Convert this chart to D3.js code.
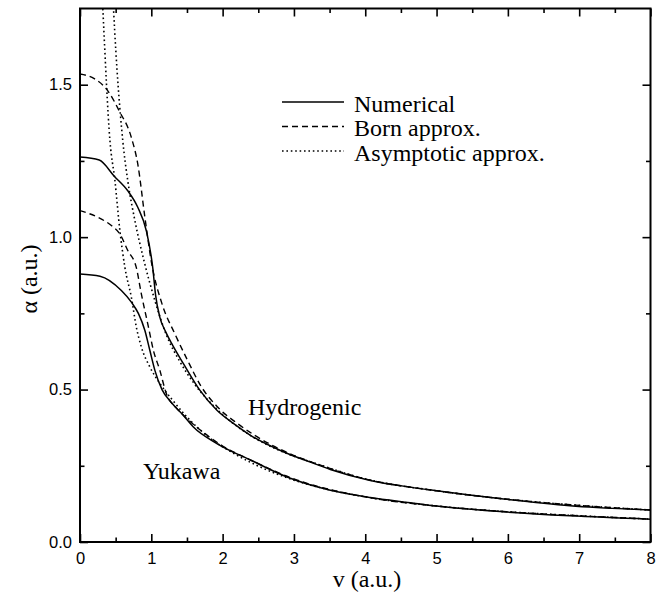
<!DOCTYPE html>
<html>
<head>
<meta charset="utf-8">
<script src="https://cdn.jsdelivr.net/npm/d3@7"></script>
<style>
  html, body { margin: 0; padding: 0; background: #fff; }
  svg { display: block; }
</style>
</head>
<body>
<svg id="chart" width="672" height="598"></svg>
<script>
// ---------------- data ----------------
const xTicks = [0, 1, 2, 3, 4, 5, 6, 7, 8];
const xMinorTicks = [0.5, 1.5, 2.5, 3.5, 4.5, 5.5, 6.5, 7.5];
const yTicks = [0.0, 0.5, 1.0, 1.5];
const yMinorTicks = [0.25, 0.75, 1.25];

const legendLabels = ["Numerical", "Born approx.", "Asymptotic approx."];
const curveLabels = ["Hydrogenic", "Yukawa"];

// Hydrogenic – numerical
const hydroNumV = [0, 0.27, 0.48, 0.67, 0.81, 0.93, 1.02, 1.06, 1.12, 1.20, 1.30, 1.45, 1.68, 1.92, 2.15, 2.39, 2.85, 3.23, 3.51, 4.07, 4.63, 5.0, 5.94, 6.87, 8.0];
const hydroNumA = [1.263, 1.253, 1.200, 1.152, 1.098, 1.021, 0.900, 0.810, 0.737, 0.690, 0.645, 0.585, 0.498, 0.432, 0.389, 0.350, 0.296, 0.262, 0.238, 0.202, 0.180, 0.168, 0.141, 0.119, 0.105];
// Hydrogenic – Born
const hydroBornV = [0, 0.20, 0.39, 0.55, 0.72, 0.81, 0.91, 1.00, 1.15, 1.33, 1.50, 1.70, 1.95, 2.20, 2.45, 2.90, 3.30, 4.0, 5.0, 6.0, 7.0, 8.0];
const hydroBornA = [1.535, 1.520, 1.480, 1.414, 1.327, 1.240, 1.065, 0.920, 0.781, 0.683, 0.600, 0.510, 0.438, 0.390, 0.350, 0.294, 0.258, 0.207, 0.168, 0.140, 0.120, 0.105];
// Hydrogenic – asymptotic
const hydroAsyV = [0.44, 0.47, 0.60, 0.67, 0.77, 0.90, 1.05, 1.21, 1.40, 1.60, 1.90, 2.40, 2.85, 3.30, 4.0, 5.0, 6.0, 7.0, 8.0];
const hydroAsyA = [1.900, 1.750, 1.316, 1.185, 1.054, 0.920, 0.792, 0.680, 0.592, 0.520, 0.440, 0.348, 0.295, 0.258, 0.207, 0.168, 0.140, 0.120, 0.105];

// Yukawa – numerical
const yukNumV = [0, 0.28, 0.58, 0.72, 0.82, 0.91, 0.98, 1.05, 1.15, 1.29, 1.45, 1.59, 1.92, 2.39, 2.94, 3.51, 4.07, 4.63, 5.0, 5.94, 6.87, 8.0];
const yukNumA = [0.879, 0.872, 0.825, 0.787, 0.749, 0.694, 0.628, 0.563, 0.500, 0.455, 0.415, 0.377, 0.323, 0.269, 0.210, 0.170, 0.146, 0.129, 0.118, 0.099, 0.086, 0.075];
// Yukawa – Born
const yukBornV = [0, 0.25, 0.44, 0.56, 0.67, 0.79, 0.86, 0.96, 1.03, 1.12, 1.21, 1.35, 1.50, 1.70, 2.00, 2.40, 3.0, 4.0, 5.0, 6.0, 7.0, 8.0];
const yukBornA = [1.087, 1.065, 1.038, 1.010, 0.956, 0.900, 0.814, 0.705, 0.628, 0.563, 0.487, 0.440, 0.405, 0.365, 0.315, 0.268, 0.207, 0.148, 0.118, 0.099, 0.086, 0.075];
// Yukawa – asymptotic
const yukAsyV = [0.30, 0.32, 0.42, 0.49, 0.56, 0.63, 0.72, 0.79, 0.86, 0.98, 1.12, 1.31, 1.50, 1.80, 2.20, 2.90, 3.50, 4.0, 5.0, 6.0, 7.0, 8.0];
const yukAsyA = [1.850, 1.750, 1.316, 1.185, 1.020, 0.900, 0.803, 0.705, 0.640, 0.574, 0.520, 0.462, 0.410, 0.345, 0.285, 0.211, 0.171, 0.148, 0.118, 0.099, 0.086, 0.075];

// ---------------- layout ----------------
const svg = d3.select("#chart");
const x = d3.scaleLinear().domain([0, 8]).range([80, 650.5]);
const y = d3.scaleLinear().domain([0, 1.75]).range([542, 8.5]);

const styles = {
  solid:  { width: 1.5, dash: null },
  dashed: { width: 1.4, dash: "6,4" },
  dotted: { width: 1.6, dash: "1.6,2.8" }
};

svg.append("defs").append("clipPath").attr("id", "plotclip")
  .append("rect")
  .attr("x", x(0)).attr("y", y(1.75))
  .attr("width", x(8) - x(0)).attr("height", y(0) - y(1.75));

const zip = (vs, as) => vs.map((v, i) => [v, as[i]]);
const line = d3.line().x(d => x(d[0])).y(d => y(d[1])).curve(d3.curveMonotoneX);

const series = [
  { data: zip(hydroNumV, hydroNumA), style: "solid" },
  { data: zip(hydroBornV, hydroBornA), style: "dashed" },
  { data: zip(hydroAsyV, hydroAsyA), style: "dotted" },
  { data: zip(yukNumV, yukNumA), style: "solid" },
  { data: zip(yukBornV, yukBornA), style: "dashed" },
  { data: zip(yukAsyV, yukAsyA), style: "dotted" }
];

const plot = svg.append("g").attr("clip-path", "url(#plotclip)");
plot.selectAll("path.series").data(series).join("path")
  .attr("class", "series")
  .attr("d", d => line(d.data))
  .attr("fill", "none")
  .attr("stroke", "#000")
  .attr("stroke-width", d => styles[d.style].width)
  .attr("stroke-dasharray", d => styles[d.style].dash);

// ---------------- axes ----------------
const tickFont = "Liberation Sans, Arial, Helvetica, sans-serif";
function styleAxis(g) {
  g.select(".domain").remove();
  g.selectAll(".tick line").attr("stroke", "#000").attr("stroke-width", 1.6);
  g.selectAll(".tick text").attr("fill", "#000").style("font-family", tickFont).style("font-size", "16.5px");
}

svg.append("g").attr("transform", `translate(0,${y(0)})`)
  .call(d3.axisBottom(x).tickValues(xTicks).tickSize(-8).tickPadding(10).tickFormat(d3.format("d")))
  .call(styleAxis);
svg.append("g").attr("transform", `translate(0,${y(0)})`)
  .call(d3.axisBottom(x).tickValues(xMinorTicks).tickSize(-4.5).tickFormat(""))
  .call(styleAxis);
svg.append("g").attr("transform", `translate(0,${y(1.75)})`)
  .call(d3.axisTop(x).tickValues(xTicks).tickSize(-8).tickFormat(""))
  .call(styleAxis);
svg.append("g").attr("transform", `translate(0,${y(1.75)})`)
  .call(d3.axisTop(x).tickValues(xMinorTicks).tickSize(-4.5).tickFormat(""))
  .call(styleAxis);

svg.append("g").attr("transform", `translate(${x(0)},0)`)
  .call(d3.axisLeft(y).tickValues(yTicks).tickSize(-8).tickPadding(8).tickFormat(d3.format(".1f")))
  .call(styleAxis);
svg.append("g").attr("transform", `translate(${x(0)},0)`)
  .call(d3.axisLeft(y).tickValues(yMinorTicks).tickSize(-4.5).tickFormat(""))
  .call(styleAxis);
svg.append("g").attr("transform", `translate(${x(8)},0)`)
  .call(d3.axisRight(y).tickValues(yTicks).tickSize(-8).tickFormat(""))
  .call(styleAxis);
svg.append("g").attr("transform", `translate(${x(8)},0)`)
  .call(d3.axisRight(y).tickValues(yMinorTicks).tickSize(-4.5).tickFormat(""))
  .call(styleAxis);

// frame
svg.append("rect")
  .attr("x", x(0)).attr("y", y(1.75))
  .attr("width", x(8) - x(0)).attr("height", y(0) - y(1.75))
  .attr("fill", "none").attr("stroke", "#000").attr("stroke-width", 2);

// ---------------- titles ----------------
const serif = "Liberation Serif, Times New Roman, Times, serif";
svg.append("text")
  .attr("x", 367).attr("y", 587)
  .attr("text-anchor", "middle")
  .style("font-family", serif).style("font-size", "24px")
  .text("v (a.u.)");
svg.append("text")
  .attr("transform", `translate(37,279) rotate(-90)`)
  .attr("text-anchor", "middle")
  .style("font-family", serif).style("font-size", "24px")
  .text("α (a.u.)");

// curve labels
svg.append("text").attr("x", 248).attr("y", 415)
  .style("font-family", serif).style("font-size", "24px").text(curveLabels[0]);
svg.append("text").attr("x", 143).attr("y", 479)
  .style("font-family", serif).style("font-size", "24px").text(curveLabels[1]);

// ---------------- legend ----------------
const legendStyles = ["solid", "dashed", "dotted"];
const legend = svg.append("g");
legendLabels.forEach((lab, i) => {
  const ly = 102 + i * 24.5;
  legend.append("line")
    .attr("x1", 282).attr("x2", 344).attr("y1", ly).attr("y2", ly)
    .attr("stroke", "#000")
    .attr("stroke-width", styles[legendStyles[i]].width)
    .attr("stroke-dasharray", styles[legendStyles[i]].dash);
  legend.append("text")
    .attr("x", 354).attr("y", ly + 9.5)
    .style("font-family", serif).style("font-size", "24px")
    .text(lab);
});
</script>
</body>
</html>
